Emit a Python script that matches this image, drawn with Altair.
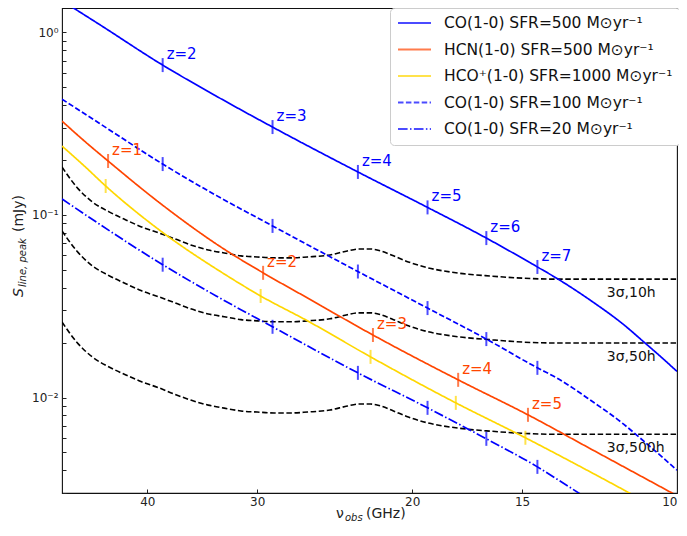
import altair as alt
import pandas as pd

# ---------------- data ----------------
series_names = [
    "CO(1-0) SFR=500 M⊙yr⁻¹",
    "HCN(1-0) SFR=500 M⊙yr⁻¹",
    "HCO⁺(1-0) SFR=1000 M⊙yr⁻¹",
    "CO(1-0) SFR=100 M⊙yr⁻¹",
    "CO(1-0) SFR=20 M⊙yr⁻¹",
]

# observed frequency (GHz) / peak line flux (mJy)
co_freq = [50.0, 45.4, 38.42, 33.4, 28.82, 23.05, 19.21, 16.47, 14.41, 13.7, 12.5, 11.5, 10.9, 10.4, 10.0]
co500 = [1.49, 1.11, 0.662, 0.448, 0.303, 0.172, 0.110, 0.0747, 0.0519, 0.0450, 0.0337, 0.0251, 0.0201, 0.0165, 0.0139]
co100 = [0.431, 0.319, 0.190, 0.128, 0.0871, 0.0490, 0.0309, 0.0209, 0.01454, 0.0128, 0.00957, 0.00715, 0.00575, 0.00473, 0.0040]
co20_freq = [50.0, 45.4, 38.42, 33.4, 28.82, 23.05, 19.21, 16.47, 14.41, 13.7, 12.5]
co20 = [0.1224, 0.0895, 0.0534, 0.0360, 0.0244, 0.01365, 0.00878, 0.00594, 0.00417, 0.00358, 0.0027]

hcn_freq = [50.0, 47.1, 44.32, 38.8, 32.7, 29.54, 26.3, 22.16, 17.73, 14.77, 12.43, 10.0]
hcn500 = [0.3266, 0.2528, 0.1975, 0.1173, 0.0649, 0.0482, 0.0351, 0.0220, 0.0125, 0.00804, 0.00512, 0.0029]

hco_freq = [50.0, 47.1, 44.60, 38.8, 32.7, 29.73, 26.3, 22.30, 17.84, 14.87, 12.43, 11.0]
hco1000 = [0.2385, 0.1843, 0.1441, 0.0831, 0.0475, 0.0360, 0.0263, 0.0167, 0.00935, 0.00602, 0.00382, 0.00278]

# 3-sigma sensitivity curves
sens_freq = [50.0, 48.1, 46.2, 44.2, 42.3, 40.6, 38.8, 37.2, 35.7, 34.1, 32.7, 31.3, 30.0, 28.7, 27.5,
             26.3, 24.8, 23.7, 23.0, 22.3, 21.7, 21.0, 20.2, 19.3, 17.7, 16.2, 14.9, 13.7, 11.8, 10.0]
sens10 = [0.183, 0.142, 0.118, 0.104, 0.0939, 0.0860, 0.0797, 0.0739, 0.0685, 0.0643, 0.0619, 0.0597, 0.0589, 0.0582, 0.0582,
          0.0589, 0.0604, 0.0635, 0.0651, 0.0651, 0.0635, 0.0597, 0.0553, 0.0517, 0.0480, 0.0462, 0.0450, 0.0445, 0.0445, 0.0445]
sens50 = [0.0818, 0.0635, 0.0527, 0.0465, 0.0420, 0.0384, 0.0356, 0.0330, 0.0306, 0.0287, 0.0277, 0.0267, 0.0263, 0.0260, 0.0260,
          0.0263, 0.0270, 0.0284, 0.0291, 0.0291, 0.0284, 0.0267, 0.0247, 0.0231, 0.0215, 0.0207, 0.0201, 0.0199, 0.0199, 0.0199]
sens500 = [0.0259, 0.0201, 0.0167, 0.0147, 0.0133, 0.0122, 0.0113, 0.0104, 0.00969, 0.00909, 0.00875, 0.00844, 0.00833, 0.00823, 0.00823,
           0.00833, 0.00854, 0.00898, 0.00921, 0.00921, 0.00898, 0.00844, 0.00782, 0.00731, 0.00679, 0.00653, 0.00636, 0.00629, 0.00629, 0.00629]
sens_labels = ["3σ,10h", "3σ,50h", "3σ,500h"]

# redshift markers
co_z = [2, 3, 4, 5, 6, 7]
co_zfreq = [38.42, 28.82, 23.05, 19.21, 16.47, 14.41]
co500_z = [0.662, 0.303, 0.172, 0.110, 0.0747, 0.0519]
co100_z = [0.190, 0.0871, 0.0490, 0.0309, 0.0209, 0.01454]
co20_z = [0.0534, 0.0244, 0.01365, 0.00878, 0.00594, 0.00417]
hcn_z = [1, 2, 3, 4, 5]
hcn_zfreq = [44.32, 29.54, 22.16, 17.73, 14.77]
hcn_zval = [0.1975, 0.0482, 0.0220, 0.0125, 0.00804]
hco_z = [1, 2, 3, 4, 5]
hco_zfreq = [44.60, 29.73, 22.30, 17.84, 14.87]
hco_zval = [0.1441, 0.0360, 0.0167, 0.00935, 0.00602]

x_ticks = [40, 30, 20, 15, 10]
y_ticks = [0.003, 0.004, 0.005, 0.006, 0.007, 0.008, 0.009,
           0.01, 0.02, 0.03, 0.04, 0.05, 0.06, 0.07, 0.08, 0.09,
           0.1, 0.2, 0.3, 0.4, 0.5, 0.6, 0.7, 0.8, 0.9, 1.0]

# ---------------- styles ----------------
series_colors = ["#0000ff", "#ff4500", "#ffd700", "#0000ff", "#0000ff"]
series_dashes = [[1, 0], [1, 0], [1, 0], [5.5, 2.4], [9.6, 2.4, 1.5, 2.4]]
color_of = dict(zip(series_names, series_colors))

# ---------------- tables ----------------
line_rows = []
for name, fr, vals in [
    (series_names[0], co_freq, co500),
    (series_names[1], hcn_freq, hcn500),
    (series_names[2], hco_freq, hco1000),
    (series_names[3], co_freq, co100),
    (series_names[4], co20_freq, co20),
]:
    for f, v in zip(fr, vals):
        line_rows.append({"series": name, "freq": f, "flux": v})
lines_df = pd.DataFrame(line_rows)

sens_rows = []
for lab, vals in zip(sens_labels, [sens10, sens50, sens500]):
    for f, v in zip(sens_freq, vals):
        sens_rows.append({"curve": lab, "freq": f, "flux": v})
sens_df = pd.DataFrame(sens_rows)
sens_lab_df = pd.DataFrame({
    "curve": sens_labels,
    "freq": [sens_freq[-2]] * 3,
    "flux": [sens10[-2], sens50[-2], sens500[-2]],
})

mk_rows = []
for name, zs, fr, vals, show in [
    (series_names[0], co_z, co_zfreq, co500_z, True),
    (series_names[3], co_z, co_zfreq, co100_z, False),
    (series_names[4], co_z, co_zfreq, co20_z, False),
    (series_names[1], hcn_z, hcn_zfreq, hcn_zval, True),
    (series_names[2], hco_z, hco_zfreq, hco_zval, False),
]:
    for z, f, v in zip(zs, fr, vals):
        mk_rows.append({"series": name, "col": color_of[name], "freq": f, "flux": v,
                        "label": f"z={z}" if show else ""})
mk_df = pd.DataFrame(mk_rows)

# ---------------- encodings ----------------
x_scale = alt.Scale(type="log", domain=[10, 50], reverse=True, nice=False)
y_scale = alt.Scale(type="log", domain=[0.003, 1.36], nice=False)
x_enc = alt.X("freq:Q", scale=x_scale, axis=alt.Axis(
    values=x_ticks, format="d", offset=-4, tickSize=4, domain=False, grid=False,
    labelPadding=3, labelFontSize=12, labelColor="#222", tickColor="#222",
    labelFlush=True, labelOverlap=False, title=None))
y_enc = alt.Y("flux:Q", scale=y_scale, axis=alt.Axis(
    values=y_ticks,
    labelExpr="datum.value == 1 ? '10⁰' : (datum.value == 0.1 ? '10⁻¹' : (datum.value == 0.01 ? '10⁻²' : ''))",
    offset=-4, tickSize=4, domain=False, grid=False, labelPadding=4, labelFontSize=12,
    labelColor="#222", tickColor="#222", labelFlush=False, labelOverlap=False, title=None))

sens_layer = alt.Chart(sens_df).mark_line(
    clip=True, color="black", strokeWidth=1.6, strokeDash=[5.5, 2.6], interpolate="monotone"
).encode(x=x_enc, y=y_enc, detail="curve:N")

sens_text = alt.Chart(sens_lab_df).mark_text(
    align="left", baseline="middle", dx=-7, dy=14, fontSize=14, color="#111"
).encode(x=x_enc, y=y_enc, text="curve:N")

line_layer = alt.Chart(lines_df).mark_line(
    clip=True, strokeWidth=1.7, interpolate="monotone"
).encode(
    x=x_enc, y=y_enc,
    color=alt.Color("series:N", scale=alt.Scale(domain=series_names, range=series_colors),
                    legend=alt.Legend(
                        title=None, orient="none", legendX=328, legendY=0,
                        fillColor="white", strokeColor="#cccccc", cornerRadius=4,
                        padding=7, symbolType="stroke", symbolSize=1089,
                        symbolStrokeWidth=2, labelFontSize=15.5, labelOffset=12,
                        clipHeight=16, rowPadding=9.5, labelLimit=400, labelColor="#111")),
    strokeDash=alt.StrokeDash("series:N", scale=alt.Scale(domain=series_names, range=series_dashes)),
)

tick_layer = alt.Chart(mk_df).mark_tick(orient="vertical", size=14, thickness=2).encode(
    x=x_enc, y=y_enc, color=alt.Color("col:N", scale=None))

z_text = alt.Chart(mk_df).transform_filter("datum.label != ''").mark_text(
    align="left", baseline="middle", dx=4, dy=-11, fontSize=15
).encode(x=x_enc, y=y_enc, text="label:N", color=alt.Color("col:N", scale=None))


def title_part(s, x, y, size, italic=False, angle=0):
    return alt.Chart(pd.DataFrame({"t": [s]})).mark_text(
        align="left", baseline="alphabetic", fontSize=size,
        fontStyle="italic" if italic else "normal", angle=angle, color="#222"
    ).encode(x=alt.value(x), y=alt.value(y), text="t:N")


titles = [
    title_part("ν", 274, 510, 14),
    title_part("obs", 283, 513, 10, italic=True),
    title_part("(GHz)", 304, 510, 14),
    title_part("S", -39, 289, 14, italic=True, angle=270),
    title_part("line, peak", -36, 279, 10, italic=True, angle=270),
    title_part("(mJy)", -39, 224, 14, angle=270),
]

chart = alt.layer(sens_layer, line_layer, tick_layer, z_text, sens_text, *titles).properties(
    width=615, height=485,
    autosize=alt.AutoSizeParams(type="none"),
    padding={"left": 54, "top": 0, "right": 2, "bottom": 29},
).configure(font="DejaVu Sans").configure_view(stroke="#111", strokeWidth=1.1)

chart.save("out.html", embed_options={"renderer": "svg", "actions": False})
